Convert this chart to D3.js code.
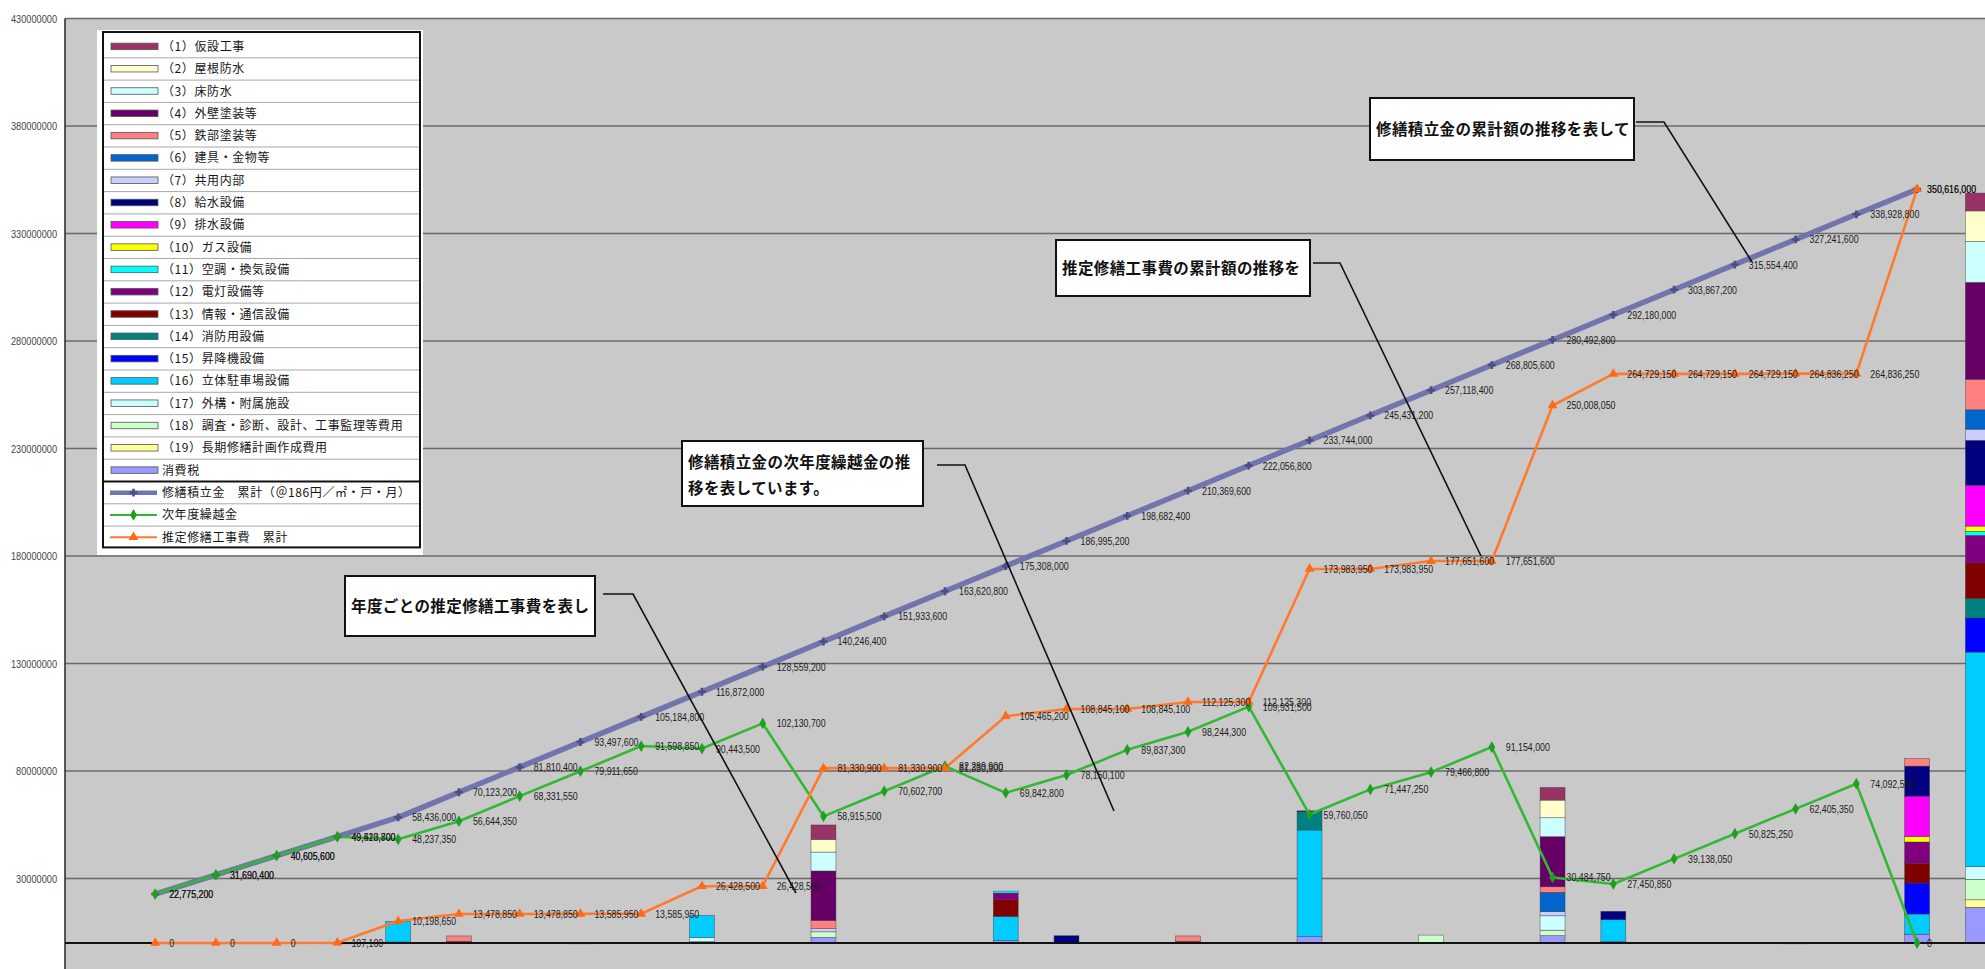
<!DOCTYPE html>
<html><head><meta charset="utf-8">
<script src="https://cdn.jsdelivr.net/npm/d3@7"></script>
<style>
html,body{margin:0;padding:0;background:#fff;overflow:hidden;}
svg{display:block;}
</style></head><body>
<svg id="chart" width="1985" height="969"></svg>
<script>
// ---------------- data ----------------
const categories = ['1','2','3','4','5','6','7','8','9','10','11','12','13','14','15','16','17','18','19','20','21','22','23','24','25','26','27','28','29','30','合計'];
const yTicks = [-20000000, 30000000, 80000000, 130000000, 180000000, 230000000, 280000000, 330000000, 380000000, 430000000];

const reserveCumulative = [22775200, 31690400, 40605600, 49520800, 58436000, 70123200, 81810400, 93497600, 105184800, 116872000,
  128559200, 140246400, 151933600, 163620800, 175308000, 186995200, 198682400, 210369600, 222056800, 233744000,
  245431200, 257118400, 268805600, 280492800, 292180000, 303867200, 315554400, 327241600, 338928800, 350616000];
const carryOver = [22775200, 31690400, 40605600, 49413700, 48237350, 56644350, 68331550, 79911650, 91598850, 90443500,
  102130700, 58915500, 70602700, 82289900, 69842800, 78150100, 89837300, 98244300, 109931500, 59760050,
  71447250, 79466800, 91154000, 30484750, 27450850, 39138050, 50825250, 62405350, 74092550, 0];
const costCumulative = [0, 0, 0, 107100, 10198650, 13478850, 13478850, 13585950, 13585950, 26428500,
  26428500, 81330900, 81330900, 81330900, 105465200, 108845100, 108845100, 112125300, 112125300, 173983950,
  173983950, 177651600, 177651600, 250008050, 264729150, 264729150, 264729150, 264836250, 264836250, 350616000];

const itemNames = ['（1）仮設工事','（2）屋根防水','（3）床防水','（4）外壁塗装等','（5）鉄部塗装等','（6）建具・金物等','（7）共用内部',
  '（8）給水設備','（9）排水設備','（10）ガス設備','（11）空調・換気設備','（12）電灯設備等','（13）情報・通信設備','（14）消防用設備',
  '（15）昇降機設備','（16）立体駐車場設備','（17）外構・附属施設','（18）調査・診断、設計、工事監理等費用','（19）長期修繕計画作成費用','消費税'];
const lineNames = ['修繕積立金　累計（＠186円／㎡・戸・月）','次年度繰越金','推定修繕工事費　累計'];

// yearly cost per item: years 1-10 / 11-20 / 21-30 / 合計
const item1 = [0,0,0,0,0,0,0,0,0,0, 0,6700000,0,0,0,0,0,0,0,0, 0,0,0,5900000,0,0,0,0,0,0, 8300000];
const item2 = [0,0,0,0,0,0,0,0,0,0, 0,5900000,0,0,0,0,0,0,0,0, 0,0,0,8200000,0,0,0,0,0,0, 14200000];
const item3 = [0,0,0,0,0,0,0,0,0,0, 0,8800000,0,0,0,0,0,0,0,0, 0,0,0,8800000,0,0,0,0,0,0, 19000000];
const item4 = [0,0,0,0,0,0,0,0,0,0, 0,23000000,0,0,0,0,0,0,0,0, 0,0,0,23300000,0,0,0,0,0,0, 45100000];
const item5 = [0,0,0,0,0,2524000,0,0,0,0, 0,3800000,0,0,0,0,0,2524000,0,0, 0,0,0,2600000,0,0,0,0,0,3500000, 14200000];
const item6 = [0,0,0,0,0,0,0,0,0,0, 0,0,0,0,0,0,0,0,0,0, 0,0,0,9000000,0,0,0,0,0,0, 9000000];
const item7 = [0,0,0,0,0,0,0,0,0,0, 0,1500000,0,0,0,0,0,0,0,0, 0,0,0,1900000,0,0,0,0,0,0, 5200000];
const item8 = [0,0,0,0,0,0,0,0,0,0, 0,0,0,0,0,3219000,0,0,0,400000, 0,0,0,0,3900000,0,0,0,0,14000000, 20900000];
const item9 = [0,0,0,0,0,0,0,0,0,0, 0,0,0,0,0,0,0,0,0,0, 0,0,0,0,0,0,0,0,0,18800000, 19000000];
const item10 = [0,0,0,0,0,0,0,0,0,0, 0,0,0,0,0,0,0,0,0,0, 0,0,0,0,0,0,0,0,0,2500000, 2400000];
const item11 = [0,0,0,0,0,0,0,0,0,0, 0,0,0,0,900000,0,0,0,0,0, 0,0,0,0,0,0,0,0,0,0, 1900000];
const item12 = [0,0,0,0,0,0,0,0,0,0, 0,0,0,0,3100000,0,0,0,0,0, 0,0,0,0,0,0,0,0,0,9900000, 12800000];
const item13 = [0,0,0,0,0,600000,0,0,0,0, 0,0,0,0,7800000,0,0,600000,0,0, 0,0,0,0,0,0,0,0,0,9200000, 16600000];
const item14 = [0,0,0,0,0,0,0,0,0,0, 0,0,0,0,0,0,0,0,0,8500000, 0,0,0,0,0,0,0,0,0,0, 9000000];
const item15 = [0,0,0,0,0,0,0,0,0,0, 0,0,0,0,0,0,0,0,0,0, 0,0,0,0,0,0,0,0,0,14400000, 15900000];
const item16 = [0,0,0,0,9611000,0,0,0,0,10231000, 0,0,0,0,11185000,0,0,0,0,49613000, 0,0,0,0,10120000,0,0,0,0,9395000, 99700000];
const item17 = [0,0,0,0,0,0,0,0,0,2000000, 0,0,0,0,0,0,0,0,0,0, 0,0,0,6700000,0,0,0,0,0,0, 6000000];
const item18 = [0,0,0,0,0,0,0,0,0,0, 0,2588000,0,0,0,0,0,0,0,0, 0,3493000,0,2510900,0,0,0,0,0,0, 9500000];
const item19 = [0,0,0,102000,0,0,0,102000,0,0, 0,0,0,0,0,0,0,0,0,0, 0,0,0,0,0,0,0,102000,0,0, 3500000];
const itemTax = [0,0,0,5100,480550,156200,0,5100,0,611550, 0,2614400,0,0,1149300,160900,0,156200,0,2945650, 0,174650,0,3445550,701100,0,0,5100,0,4084750, 16600000];

const itemSeries = [item1,item2,item3,item4,item5,item6,item7,item8,item9,item10,item11,item12,item13,item14,item15,item16,item17,item18,item19,itemTax];

const annotations = [
  {lines:['修繕積立金の累計額の推移を表して']},
  {lines:['推定修繕工事費の累計額の推移を']},
  {lines:['修繕積立金の次年度繰越金の推','移を表しています。']},
  {lines:['年度ごとの推定修繕工事費を表し']}
];

// ---------------- styles ----------------
const itemColors = ['#993366','#FFFFCC','#CCFFFF','#660066','#FF8080','#0066CC','#CCCCFF','#000080','#FF00FF','#FFFF00',
  '#00FFFF','#800080','#800000','#008080','#0000FF','#00CCFF','#CCFFFF','#CCFFCC','#FFFF99','#9999FF'];
const lineColors = ['#7373AE','#33B833','#FF7A2E'];
const markerColors = ['#4E4E86','#1F9F1F','#FF6A14'];

// ---------------- layout ----------------
const W = 1985, H = 969;
const axisX = 65;
const svg = d3.select('#chart');
const x = d3.scaleBand().domain(categories).range([64, 2069]).paddingInner(0).paddingOuter(1);
const cx = c => x(c) + x.bandwidth() / 2;
const barW = x.bandwidth() * 0.41;
const y = d3.scaleLinear().domain(d3.extent(yTicks)).range([986, 18.5]);

const numFont = '"Liberation Sans",Arial,sans-serif';
const jpFont = '"Noto Sans CJK JP","Noto Sans CJK SC",sans-serif';
function condense(sel, k) {
  sel.each(function() {
    const L = this.getComputedTextLength();
    if (L > 0) { this.setAttribute('textLength', (L * k).toFixed(2)); this.setAttribute('lengthAdjust', 'spacingAndGlyphs'); }
  });
}

svg.append('rect').attr('width', W).attr('height', H).attr('fill', '#fff');
// plot area
svg.append('rect').attr('x', axisX).attr('y', y(d3.max(yTicks))).attr('width', W - axisX).attr('height', H).attr('fill', '#C9C9C9');

// gridlines
svg.append('g').selectAll('line').data(yTicks).join('line')
  .attr('x1', axisX).attr('x2', W).attr('y1', d => y(d)).attr('y2', d => y(d))
  .attr('stroke', '#6a6a6a').attr('stroke-width', 1.4);

// y axis (the lowest tick lies below the visible picture, as in the cropped original)
const yAxis = d3.axisLeft(y).tickValues(yTicks).tickFormat(d3.format('d')).tickSize(0).tickPadding(8);
const ga = svg.append('g').attr('transform', `translate(${axisX},0)`).call(yAxis);
ga.select('.domain').remove();
ga.selectAll('.tick').filter(d => y(d) > H - 8).remove();
ga.selectAll('text').attr('font-family', numFont).attr('font-size', 11.5).attr('fill', '#444').call(condense, 0.8);
svg.append('line').attr('x1', axisX).attr('x2', axisX).attr('y1', y(d3.max(yTicks))).attr('y2', H)
  .attr('stroke', '#333').attr('stroke-width', 1.6);

// stacked bars (bottom: 消費税 ... top: (1))
const rows = categories.map((c, i) => {
  const r = {cat: c};
  itemSeries.forEach((s, k) => { r['k' + k] = s[i]; });
  return r;
});
const stackKeys = itemSeries.map((s, k) => 'k' + k).reverse();
const stacked = d3.stack().keys(stackKeys)(rows);
const gBars = svg.append('g');
stacked.forEach(layer => {
  const k = +layer.key.slice(1);
  gBars.selectAll(null).data(layer.filter(d => d[1] - d[0] > 0)).join('rect')
    .attr('x', d => cx(d.data.cat) - barW / 2)
    .attr('width', barW)
    .attr('y', d => y(d[1]))
    .attr('height', d => Math.max(0.8, y(d[0]) - y(d[1])))
    .attr('fill', itemColors[k])
    .attr('stroke', '#3a3a3a').attr('stroke-width', 0.6).attr('stroke-opacity', 0.7);
});

// zero baseline
svg.append('line').attr('x1', axisX).attr('x2', W).attr('y1', y(0)).attr('y2', y(0))
  .attr('stroke', '#111').attr('stroke-width', 2);

// lines
const lineSeries = [reserveCumulative, carryOver, costCumulative];
const lineWidths = [5.5, 2.6, 2.6];
const line = d3.line().x((d, i) => cx(categories[i])).y(d => y(d));
lineSeries.forEach((s, k) => {
  svg.append('path').datum(s).attr('d', line).attr('fill', 'none')
    .attr('stroke', lineColors[k]).attr('stroke-width', lineWidths[k]).attr('stroke-linejoin', 'round');
});
const symbols = [d3.symbol(d3.symbolCross, 34), d3.symbol(d3.symbolDiamond, 40), d3.symbol(d3.symbolTriangle, 42)];
lineSeries.forEach((s, k) => {
  svg.append('g').selectAll('path').data(s).join('path')
    .attr('d', symbols[k]())
    .attr('transform', (d, i) => `translate(${cx(categories[i])},${y(d)})`)
    .attr('fill', markerColors[k]);
});

// data labels
const fmt = d3.format(',');
lineSeries.forEach((s, k) => {
  svg.append('g').selectAll('text').data(s).join('text')
    .attr('x', (d, i) => cx(categories[i]) + (i === s.length - 1 ? 10 : 14))
    .attr('y', d => y(d) + 4)
    .attr('font-family', numFont).attr('font-size', 11).attr('fill', '#1c1c1c')
    .text(d => fmt(d))
    .call(condense, 0.8);
});

// legend
const lg = svg.append('g');
lg.append('rect').attr('x', 97).attr('y', 30).attr('width', 326).attr('height', 525).attr('fill', '#fff');
const rowH = 22.3, row0 = 35.5;
const legendRows = itemNames.length + lineNames.length;
for (let i = 1; i < legendRows; i++) {
  lg.append('line').attr('x1', 103).attr('x2', 420).attr('y1', row0 + rowH * i).attr('y2', row0 + rowH * i)
    .attr('stroke', i === itemNames.length ? '#111' : '#a8a8a8').attr('stroke-width', i === itemNames.length ? 2 : 1);
}
lg.append('rect').attr('x', 103).attr('y', 32).attr('width', 317).attr('height', row0 + rowH * legendRows - 32 - 1)
  .attr('fill', 'none').attr('stroke', '#111').attr('stroke-width', 2);
itemNames.forEach((n, i) => {
  const cy = row0 + rowH * i + rowH / 2;
  lg.append('rect').attr('x', 111).attr('y', cy - 3.5).attr('width', 47).attr('height', 6.5)
    .attr('fill', itemColors[i]).attr('stroke', '#555').attr('stroke-width', 0.8);
  lg.append('text').attr('x', 162).attr('y', cy + 4.3).attr('font-family', jpFont).attr('font-size', 12)
    .attr('letter-spacing', 0.6).attr('fill', '#151515').text(n);
});
lineNames.forEach((n, j) => {
  const cy = row0 + rowH * (itemNames.length + j) + rowH / 2;
  lg.append('line').attr('x1', 110).attr('x2', 157).attr('y1', cy).attr('y2', cy)
    .attr('stroke', lineColors[j]).attr('stroke-width', j === 0 ? 4.5 : 2);
  lg.append('path').attr('d', symbols[j]()).attr('transform', `translate(133.5,${cy})`).attr('fill', markerColors[j]);
  lg.append('text').attr('x', 162).attr('y', cy + 4.3).attr('font-family', jpFont).attr('font-size', 12)
    .attr('letter-spacing', 0.6).attr('fill', '#151515').text(n);
});

// annotation callouts
const boxGeom = [
  {x: 1370, y: 98, w: 264, h: 62, fs: 15.5, leader: [[1636, 122], [1664, 122], [1752, 262]]},
  {x: 1056, y: 240, w: 254, h: 56, fs: 15.5, leader: [[1313, 263], [1340, 263], [1481, 556]]},
  {x: 682, y: 441, w: 241, h: 65, fs: 15.5, leader: [[937, 465], [965, 465], [1114, 811]]},
  {x: 345, y: 576, w: 250, h: 60, fs: 15.5, leader: [[603, 594], [633, 594], [796, 893]]}
];
const ag = svg.append('g');
annotations.forEach((a, i) => {
  const b = boxGeom[i];
  ag.append('polyline').attr('points', b.leader.map(p => p.join(',')).join(' '))
    .attr('fill', 'none').attr('stroke', '#111').attr('stroke-width', 1.6);
  ag.append('rect').attr('x', b.x).attr('y', b.y).attr('width', b.w).attr('height', b.h)
    .attr('fill', '#fff').attr('stroke', '#111').attr('stroke-width', 2);
  const n = a.lines.length;
  a.lines.forEach((t, j) => {
    const ty = n === 1 ? b.y + b.h / 2 + 5.5 : b.y + 27 + j * 26;
    ag.append('text').attr('x', b.x + 6).attr('y', ty).attr('font-family', jpFont)
      .attr('font-size', b.fs).attr('font-weight', 'bold').attr('letter-spacing', 0.4).attr('fill', '#111').text(t);
  });
});
</script>
</body></html>
